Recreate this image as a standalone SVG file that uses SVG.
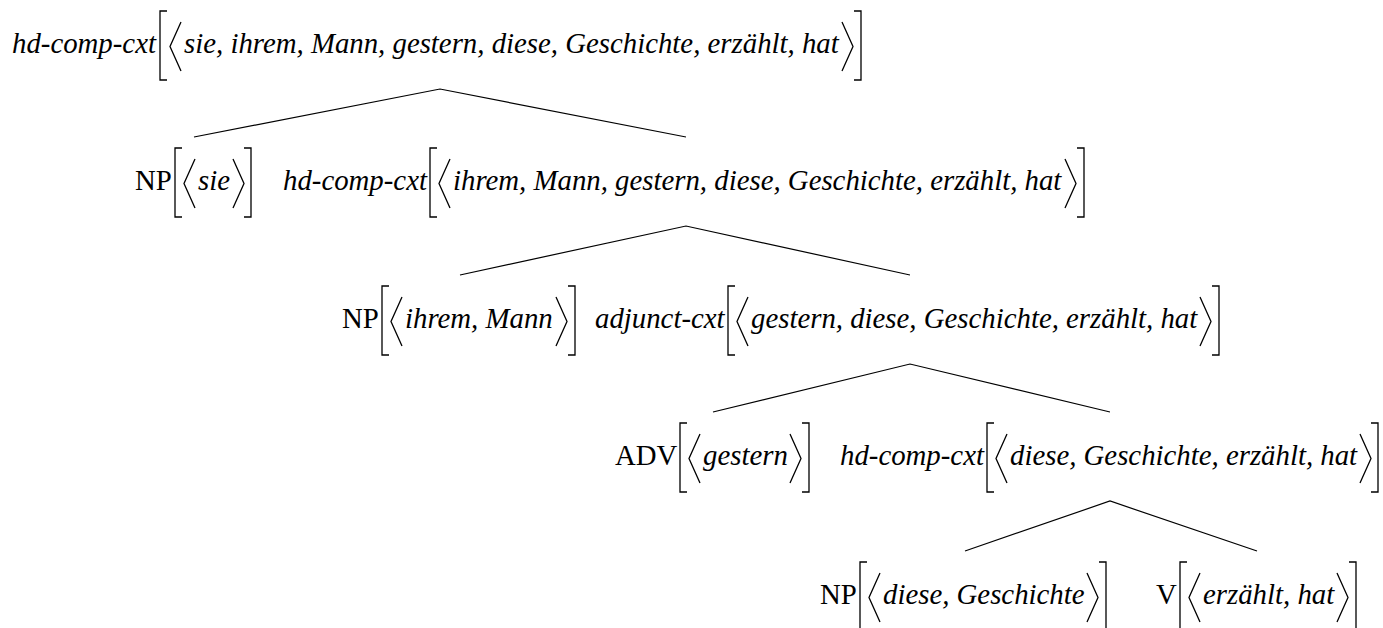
<svg xmlns="http://www.w3.org/2000/svg" xmlns:xlink="http://www.w3.org/1999/xlink" width="1383" height="628" viewBox="0 0 1383 628">
<style>
text{font-family:"Liberation Serif","Times New Roman",serif;font-size:28.8px;fill:#000}
.i{font-style:italic}
.b{fill:none;stroke:#000;stroke-width:1.3}
.e{stroke:#000;stroke-width:1.2;fill:none}
</style>
<defs>
<path id="lb" class="b" d="M7,-42 H0 V27 H7"/>
<path id="rb" class="b" d="M-7,-42 H0 V27 H-7"/>
<path id="la" class="b" d="M11,-31 L0,-6.5 L11,18"/>
<path id="ra" class="b" d="M-11,-31 L0,-6.5 L-11,18"/>
</defs>
<rect width="1383" height="628" fill="#fff"/>
<g id="connectors">
<polyline class="e" points="194,137 440,89 686,137"/>
<polyline class="e" points="460,275 686,226 910,275"/>
<polyline class="e" points="713,412 910,364 1110,412"/>
<polyline class="e" points="965,551 1110,501 1257,551"/>
</g>
<g id="n1">
<text class="i" x="12" y="53">hd-comp-cxt</text>
<use xlink:href="#lb" x="160" y="53"/><use xlink:href="#la" x="170" y="53"/>
<text class="i" x="184" y="53">sie, ihrem, Mann, gestern, diese, Geschichte, erzählt, hat</text>
<use xlink:href="#ra" x="853" y="53"/><use xlink:href="#rb" x="861" y="53"/>
</g>
<g id="n2">
<text x="135" y="190">NP</text>
<use xlink:href="#lb" x="175" y="190"/><use xlink:href="#la" x="184" y="190"/>
<text class="i" x="198" y="190">sie</text>
<use xlink:href="#ra" x="244" y="190"/><use xlink:href="#rb" x="251" y="190"/>
</g>
<g id="n3">
<text class="i" x="283" y="190">hd-comp-cxt</text>
<use xlink:href="#lb" x="430" y="190"/><use xlink:href="#la" x="439" y="190"/>
<text class="i" x="453" y="190">ihrem, Mann, gestern, diese, Geschichte, erzählt, hat</text>
<use xlink:href="#ra" x="1076" y="190"/><use xlink:href="#rb" x="1084" y="190"/>
</g>
<g id="n4">
<text x="342" y="328">NP</text>
<use xlink:href="#lb" x="382" y="328"/><use xlink:href="#la" x="391" y="328"/>
<text class="i" x="405" y="328">ihrem, Mann</text>
<use xlink:href="#ra" x="567" y="328"/><use xlink:href="#rb" x="575" y="328"/>
</g>
<g id="n5">
<text class="i" x="595" y="328">adjunct-cxt</text>
<use xlink:href="#lb" x="728" y="328"/><use xlink:href="#la" x="737" y="328"/>
<text class="i" x="751" y="328">gestern, diese, Geschichte, erzählt, hat</text>
<use xlink:href="#ra" x="1211" y="328"/><use xlink:href="#rb" x="1219" y="328"/>
</g>
<g id="n6">
<text x="615" y="465">ADV</text>
<use xlink:href="#lb" x="680" y="465"/><use xlink:href="#la" x="689" y="465"/>
<text class="i" x="703" y="465">gestern</text>
<use xlink:href="#ra" x="801" y="465"/><use xlink:href="#rb" x="809" y="465"/>
</g>
<g id="n7">
<text class="i" x="840" y="465">hd-comp-cxt</text>
<use xlink:href="#lb" x="987" y="465"/><use xlink:href="#la" x="996" y="465"/>
<text class="i" x="1010" y="465">diese, Geschichte, erzählt, hat</text>
<use xlink:href="#ra" x="1371" y="465"/><use xlink:href="#rb" x="1378" y="465"/>
</g>
<g id="n8">
<text x="820" y="604">NP</text>
<use xlink:href="#lb" x="860" y="604"/><use xlink:href="#la" x="869" y="604"/>
<text class="i" x="883" y="604">diese, Geschichte</text>
<use xlink:href="#ra" x="1098" y="604"/><use xlink:href="#rb" x="1106" y="604"/>
</g>
<g id="n9">
<text x="1156" y="604">V</text>
<use xlink:href="#lb" x="1180" y="604"/><use xlink:href="#la" x="1189" y="604"/>
<text class="i" x="1203" y="604">erzählt, hat</text>
<use xlink:href="#ra" x="1348" y="604"/><use xlink:href="#rb" x="1356" y="604"/>
</g>
</svg>
